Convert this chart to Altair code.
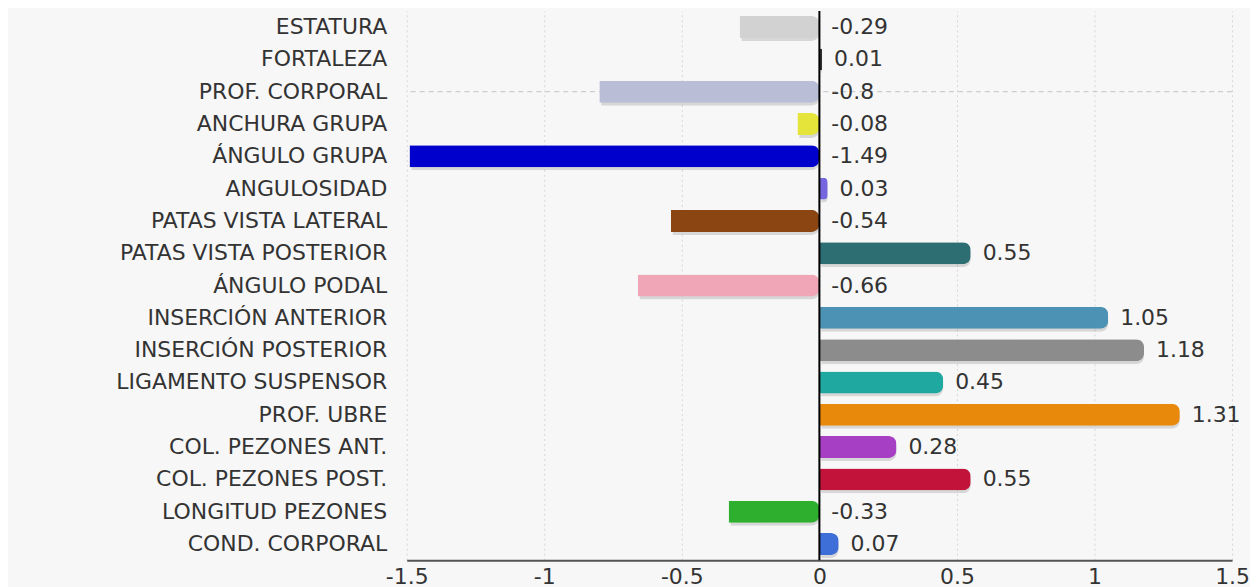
import altair as alt
import pandas as pd

categories = ["ESTATURA", "FORTALEZA", "PROF. CORPORAL", "ANCHURA GRUPA", "ÁNGULO GRUPA",
              "ANGULOSIDAD", "PATAS VISTA LATERAL", "PATAS VISTA POSTERIOR", "ÁNGULO PODAL",
              "INSERCIÓN ANTERIOR", "INSERCIÓN POSTERIOR", "LIGAMENTO SUSPENSOR", "PROF. UBRE",
              "COL. PEZONES ANT.", "COL. PEZONES POST.", "LONGITUD PEZONES", "COND. CORPORAL"]
values = [-0.29, 0.01, -0.8, -0.08, -1.49, 0.03, -0.54, 0.55, -0.66,
          1.05, 1.18, 0.45, 1.31, 0.28, 0.55, -0.33, 0.07]
colors = ["#d2d2d2", "#333333", "#b9bdd6", "#e4e43a", "#0000cc", "#7566e0", "#8b4513",
          "#2c6e72", "#f0a6b6", "#4b92b4", "#8c8c8c", "#1fa8a0", "#e8890c", "#a63fc4",
          "#c2143a", "#2eb02e", "#3e6fd8"]
x_ticks = [-1.5, -1, -0.5, 0, 0.5, 1, 1.5]
highlight = ["PROF. CORPORAL"]

df = pd.DataFrame({
    "cat": categories,
    "value": values,
    "color": colors,
    "label": [str(v) for v in values],
    "lpos": [max(v, 0) for v in values],
})

FONT = "DejaVu Sans"

y_enc = alt.Y("cat:N", sort=categories,
              scale=alt.Scale(paddingInner=0.32, paddingOuter=0.16),
              axis=alt.Axis(title=None, ticks=False, domain=False, grid=False,
                            labelFontSize=22, labelColor="#333333", labelFont=FONT,
                            labelPadding=20, minExtent=400, maxExtent=400, labelLimit=400))
x_enc = alt.X("value:Q", scale=alt.Scale(domain=[-1.5, 1.5], nice=False, zero=False),
              axis=alt.Axis(values=x_ticks, title=None, grid=True, gridDash=[2, 3],
                            gridColor="#d6d6d6", ticks=False, domainColor="#555555",
                            domainWidth=2, labelFontSize=22, labelColor="#333333",
                            labelFont=FONT, labelPadding=6, labelFlush=False,
                            labelExpr="'' + datum.value"))

base = alt.Chart(df)

hl = alt.Chart(pd.DataFrame({"cat": highlight})).mark_rule(
    color="#c4c4c4", strokeDash=[5, 4], strokeWidth=1
).encode(y=alt.Y("cat:N", sort=categories))

shadow = base.mark_bar(cornerRadiusEnd=8, color="#000000", opacity=0.13,
                       xOffset=2, yOffset=3).encode(x=x_enc, y=y_enc)

bars = base.mark_bar(cornerRadiusEnd=8).encode(
    x=x_enc, y=y_enc, color=alt.Color("color:N", scale=None)
)

zero = alt.Chart(pd.DataFrame({"value": [0]})).mark_rule(
    color="#000000", strokeWidth=2
).encode(x="value:Q")

labels = base.mark_text(align="left", baseline="middle", dx=12, fontSize=22,
                        font=FONT, color="#333333").encode(
    x=alt.X("lpos:Q"), y=alt.Y("cat:N", sort=categories), text="label:N"
)

chart = alt.layer(hl, shadow, bars, zero, labels).properties(
    width=828, height=551,
    padding={"left": 0, "top": 1, "right": 0, "bottom": 0},
    background="#f7f7f7",
).configure_view(stroke=None)

chart.save("out.html", embed_options={"renderer": "svg", "actions": False})
